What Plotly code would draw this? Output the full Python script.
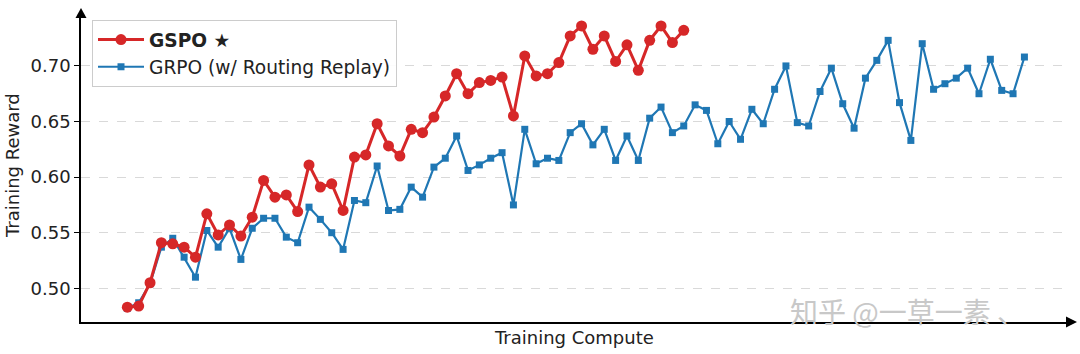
import plotly.graph_objects as go

# ---- data ----
gspo_reward = [0.483, 0.484, 0.505, 0.541, 0.540, 0.537, 0.528, 0.567, 0.548, 0.557,
               0.547, 0.564, 0.597, 0.582, 0.584, 0.569, 0.611, 0.591, 0.594, 0.570,
               0.618, 0.620, 0.648, 0.628, 0.619, 0.643, 0.640, 0.654, 0.673, 0.693,
               0.675, 0.685, 0.687, 0.690, 0.655, 0.709, 0.691, 0.693, 0.703, 0.727,
               0.736, 0.715, 0.727, 0.704, 0.719, 0.696, 0.723, 0.736, 0.721, 0.732]
grpo_reward = [0.482, 0.487, 0.504, 0.537, 0.545, 0.528, 0.510, 0.552, 0.537, 0.554,
               0.526, 0.554, 0.563, 0.563, 0.546, 0.541, 0.573, 0.562, 0.550, 0.535,
               0.579, 0.577, 0.610, 0.570, 0.571, 0.591, 0.582, 0.609, 0.617, 0.637,
               0.606, 0.611, 0.617, 0.622, 0.575, 0.643, 0.612, 0.617, 0.615, 0.640,
               0.648, 0.629, 0.643, 0.615, 0.637, 0.615, 0.653, 0.663, 0.640, 0.646,
               0.665, 0.660, 0.630, 0.650, 0.634, 0.661, 0.648, 0.679, 0.700, 0.649,
               0.646, 0.677, 0.698, 0.666, 0.644, 0.689, 0.705, 0.723, 0.667, 0.633,
               0.720, 0.679, 0.684, 0.689, 0.698, 0.675, 0.706, 0.678, 0.675, 0.708]
gspo_step = list(range(len(gspo_reward)))
grpo_step = list(range(len(grpo_reward)))
y_ticks = [0.50, 0.55, 0.60, 0.65, 0.70]
y_tick_labels = ["0.50", "0.55", "0.60", "0.65", "0.70"]

FONT = "DejaVu Sans"
TXT = "#222222"
RED = "#d62728"
BLUE = "#1f77b4"

fig = go.Figure()
fig.add_trace(go.Scatter(
    x=grpo_step, y=grpo_reward, mode="lines+markers",
    name="GRPO (w/ Routing Replay)", legendrank=2,
    line=dict(color=BLUE, width=2.2),
    marker=dict(symbol="square", size=7, color=BLUE),
))
fig.add_trace(go.Scatter(
    x=gspo_step, y=gspo_reward, mode="lines+markers",
    name="<b>GSPO ★</b>", legendrank=1,
    line=dict(color=RED, width=3),
    marker=dict(symbol="circle", size=11, color=RED),
))

L, R, T, B = 81, 13, 14, 32
W, H = 1080, 354
pw, ph = W - L - R, H - T - B

shapes = []
# y-axis arrow head (pointing up)
tip_y = 1 + 6 / ph
base_y = 1 - 4 / ph
hw = 5.5 / pw
shapes.append(dict(type="path", xref="paper", yref="paper",
                   path=f"M {-hw} {base_y} L {hw} {base_y} L 0 {tip_y} Z",
                   fillcolor="black", line=dict(width=0)))
# x-axis arrow head (pointing right)
tip_x = 1 + 10 / pw
base_x = 1 - 1 / pw
hh = 5.5 / ph
shapes.append(dict(type="path", xref="paper", yref="paper",
                   path=f"M {base_x} {-hh} L {base_x} {hh} L {tip_x} 0 Z",
                   fillcolor="black", line=dict(width=0)))
shapes.append(dict(type="line", xref="paper", yref="paper",
                   x0=1, x1=base_x + 2 / pw, y0=0, y1=0,
                   line=dict(color="black", width=1.6)))

annotations = [
    dict(text="Training Reward", xref="paper", yref="paper",
         x=(12 - L) / pw, y=(H - B - 166) / ph, textangle=-90,
         showarrow=False, xanchor="center", yanchor="middle",
         font=dict(family=FONT, size=18, color=TXT)),
    dict(text="Training Compute", xref="paper", yref="paper",
         x=0.5, y=-(337 - (H - B)) / ph, showarrow=False,
         xanchor="center", yanchor="middle",
         font=dict(family=FONT, size=18, color=TXT)),
    dict(text="知乎 @一草一素 、", xref="paper", yref="paper",
         x=(788 - L) / pw, y=-(311 - (H - B)) / ph, showarrow=False,
         xanchor="left", yanchor="middle",
         font=dict(family="Noto Sans CJK SC", size=28, color="#c8c8c8")),
]

fig.update_layout(
    width=W, height=H,
    margin=dict(l=L, r=R, t=T, b=B),
    paper_bgcolor="white", plot_bgcolor="white",
    font=dict(family=FONT, size=18, color=TXT),
    showlegend=True,
    legend=dict(x=(92 - L) / pw, y=(H - B - 20) / ph, xanchor="left", yanchor="top",
                bgcolor="rgba(255,255,255,0.9)", bordercolor="#cccccc", borderwidth=1,
                itemwidth=46,
                font=dict(family=FONT, size=18.6, color=TXT)),
    xaxis=dict(range=[-4.08, 82.75], showgrid=False, zeroline=False,
               showticklabels=False, ticks="", showline=True,
               linecolor="black", linewidth=1.6),
    yaxis=dict(range=[0.4697, 0.7467], tickvals=y_ticks, ticktext=y_tick_labels,
               showgrid=True, gridcolor="#d9d9d9", griddash="dash", gridwidth=1,
               zeroline=False, showline=True, linecolor="black", linewidth=1.6,
               ticks="outside", ticklen=5, tickwidth=1.4, tickcolor="black",
               tickfont=dict(family=FONT, size=18, color=TXT)),
    shapes=shapes,
    annotations=annotations,
)

fig.write_html("out.html")
